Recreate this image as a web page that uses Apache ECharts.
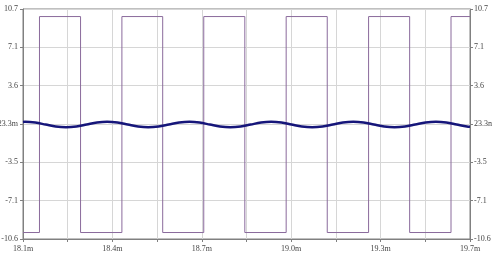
<!DOCTYPE html>
<html>
<head>
<meta charset="utf-8">
<script src="https://cdn.jsdelivr.net/npm/echarts@6/dist/echarts.min.js"></script>
<style>
html,body{margin:0;padding:0;background:#fff;}
#chart{width:492px;height:255px;}
</style>
</head>
<body>
<div id="chart"></div>
<script>
// X axis (ms) tick labels (every second grid line is labelled)
var xTickLabels = ['18.1m', '18.4m', '18.7m', '19.0m', '19.3m', '19.7m'];
// Y axis tick labels, bottom to top
var yTickLabels = ['-10.6', '-7.1', '-3.5', '23.3m', '3.6', '7.1', '10.7'];

// Square wave: switching times (ms), levels
var squareEdges = [18.159, 18.306, 18.454, 18.600, 18.747, 18.894, 19.042, 19.189, 19.337, 19.484, 19.632];
var squareLevels = [-10, 10]; // start low, then alternate
var squareStart = 18.1, squareEnd = 19.7;

// Filtered (sine-like) wave: times (ms) and values
var sineTimes = [18.100, 18.107, 18.144, 18.181, 18.217, 18.254, 18.291, 18.328, 18.365, 18.401,
  18.438, 18.475, 18.512, 18.548, 18.585, 18.622, 18.659, 18.696, 18.732, 18.769,
  18.805, 18.842, 18.879, 18.915, 18.952, 18.988, 19.025, 19.061, 19.098, 19.135,
  19.172, 19.209, 19.245, 19.282, 19.319, 19.356, 19.393, 19.430, 19.467, 19.504,
  19.541, 19.578, 19.615, 19.652, 19.689, 19.700];
var sineValues = [0.24, 0.25, 0.18, 0, -0.18, -0.25, -0.18, 0, 0.18, 0.25,
  0.18, 0, -0.18, -0.25, -0.18, 0, 0.18, 0.25, 0.18, 0,
  -0.18, -0.25, -0.18, 0, 0.18, 0.25, 0.18, 0, -0.18, -0.25,
  -0.18, 0, 0.18, 0.25, 0.18, 0, -0.18, -0.25, -0.18, 0,
  0.18, 0.25, 0.18, 0, -0.18, -0.21];

// build series data
var squareData = [[squareStart, squareLevels[0]]];
var lvl = 0;
for (var i = 0; i < squareEdges.length; i++) {
  squareData.push([squareEdges[i], squareLevels[lvl]]);
  lvl = 1 - lvl;
  squareData.push([squareEdges[i], squareLevels[lvl]]);
}
squareData.push([squareEnd, squareLevels[lvl]]);

var sineData = sineTimes.map(function (t, i) { return [t, sineValues[i]]; });

var labelFont = { fontFamily: '"Liberation Serif", "DejaVu Serif", serif', fontSize: 8, color: '#444' };
var axisGray = '#808080';
var gridGray = '#d6d6d6';

function yAxisDef(pos) {
  return {
    type: 'value', position: pos,
    min: -10.6, max: 10.7, interval: 3.55,
    axisLine: { show: true, lineStyle: { color: axisGray, width: 1 } },
    axisTick: { show: true, length: 3, lineStyle: { color: axisGray } },
    splitLine: { show: pos === 'left', lineStyle: { color: gridGray, width: 1 } },
    axisLabel: Object.assign({
      margin: pos === 'left' ? 5 : 4,
      formatter: function (v, idx) { return yTickLabels[idx] !== undefined ? yTickLabels[idx] : ''; }
    }, labelFont)
  };
}

var chart = echarts.init(document.getElementById('chart'), null, { renderer: 'canvas' });
chart.setOption({
  animation: false,
  grid: { left: 23, right: 22, top: 9, bottom: 16, show: true, borderColor: axisGray, borderWidth: 1,
          containLabel: false, outerBoundsMode: 'none' },
  xAxis: {
    type: 'value', min: 18.1, max: 19.7, interval: 0.16,
    axisLine: { show: true, onZero: false, lineStyle: { color: axisGray, width: 1 } },
    axisTick: { show: true, length: 3, lineStyle: { color: axisGray } },
    splitLine: { show: true, lineStyle: { color: gridGray, width: 1 } },
    axisLabel: Object.assign({
      margin: 6, showMinLabel: true, showMaxLabel: true,
      formatter: function (v, idx) { return idx % 2 === 0 ? (xTickLabels[idx / 2] || '') : ''; }
    }, labelFont)
  },
  yAxis: [yAxisDef('left'), yAxisDef('right')],
  series: [
    {
      type: 'line', data: squareData, showSymbol: false, symbol: 'none',
      lineStyle: { color: '#8a6a9c', width: 1 }, z: 2
    },
    {
      type: 'line', data: sineData, showSymbol: false, symbol: 'none', smooth: 0.35,
      lineStyle: { color: '#16167a', width: 2.5 }, z: 3
    }
  ]
});
</script>
</body>
</html>
